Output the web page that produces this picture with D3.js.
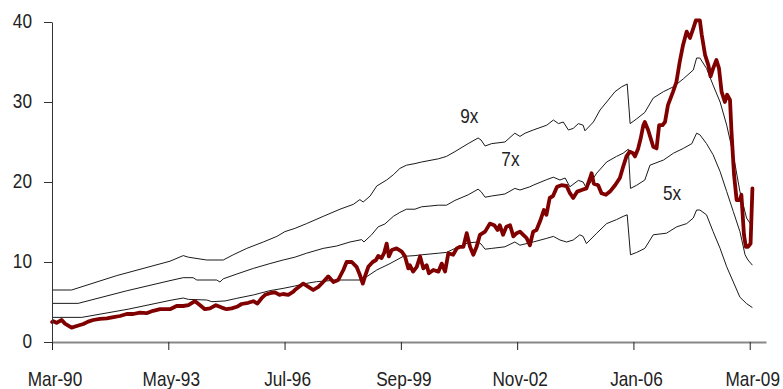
<!DOCTYPE html>
<html>
<head>
<meta charset="utf-8">
<script src="https://cdn.jsdelivr.net/npm/d3@7"></script>
<style>
  html, body { margin: 0; padding: 0; background: #fff; }
  svg { display: block; }
  .lbl { font-family: "Liberation Sans", Arial, sans-serif; font-size: 21px; fill: #222; }
</style>
</head>
<body>
<svg id="chart" width="783" height="389"></svg>
<script>
// Time is a decimal year; values are share price and EPS-multiple bands.
const tickYears  = [1990 + 2/12, 1993 + 4/12, 1996 + 6/12, 1999 + 8/12, 2002 + 10/12, 2006, 2009 + 2/12];
const tickLabels = ["Mar-90", "May-93", "Jul-96", "Sep-99", "Nov-02", "Jan-06", "Mar-09"];
const yTicks     = [0, 10, 20, 30, 40];

const price = [
  [1990.17,2.5],[1990.20,2.6],[1990.29,2.4],[1990.43,2.75],[1990.52,2.3],[1990.70,1.8],[1990.84,2.0],
  [1991.02,2.25],[1991.15,2.55],[1991.29,2.75],[1991.47,2.9],[1991.66,2.95],[1991.84,3.1],[1992.02,3.25],
  [1992.20,3.5],[1992.38,3.5],[1992.56,3.66],[1992.74,3.6],[1992.92,3.9],[1993.11,4.1],[1993.29,4.1],
  [1993.38,4.1],[1993.56,4.5],[1993.74,4.5],[1993.88,4.6],[1994.06,5.1],[1994.20,4.6],[1994.33,4.1],
  [1994.47,4.2],[1994.63,4.6],[1994.79,4.3],[1994.92,4.1],[1995.06,4.2],[1995.20,4.4],[1995.33,4.75],
  [1995.51,4.9],[1995.65,5.1],[1995.76,4.8],[1995.88,5.5],[1995.97,5.9],[1996.10,6.1],[1996.24,6.2],
  [1996.36,5.9],[1996.46,6.0],[1996.60,5.9],[1996.74,6.3],[1996.78,6.5],[1997.01,7.3],[1997.15,6.9],
  [1997.28,6.5],[1997.42,6.9],[1997.55,7.5],[1997.69,8.2],[1997.83,7.5],[1997.96,7.75],[1998.10,9.0],
  [1998.19,10.0],[1998.33,10.0],[1998.46,9.4],[1998.55,8.4],[1998.63,7.3],[1998.69,8.2],[1998.78,9.4],
  [1998.90,10.0],[1998.99,10.25],[1999.05,10.75],[1999.14,10.5],[1999.21,11.1],[1999.28,12.3],[1999.34,10.7],
  [1999.42,11.5],[1999.55,11.7],[1999.69,11.3],[1999.78,10.7],[1999.87,9.2],[1999.91,9.6],[2000.00,8.8],
  [2000.10,9.4],[2000.19,10.7],[2000.28,9.2],[2000.37,9.6],[2000.43,8.6],[2000.55,9.0],[2000.69,8.8],
  [2000.78,9.8],[2000.87,8.8],[2000.96,11.1],[2001.09,10.9],[2001.19,11.7],[2001.28,11.9],[2001.37,11.9],
  [2001.46,13.6],[2001.55,11.9],[2001.64,10.9],[2001.73,11.9],[2001.82,13.4],[2001.96,13.8],[2002.09,14.8],
  [2002.21,14.6],[2002.30,14.0],[2002.36,14.6],[2002.45,13.4],[2002.54,14.4],[2002.64,14.6],[2002.73,13.2],
  [2002.82,13.6],[2002.91,13.8],[2003.00,13.4],[2003.09,13.0],[2003.18,12.1],[2003.27,13.8],[2003.36,14.0],
  [2003.47,15.25],[2003.56,16.5],[2003.63,15.9],[2003.72,18.0],[2003.81,18.25],[2003.92,19.4],[2004.04,19.6],
  [2004.18,19.5],[2004.27,18.6],[2004.36,18.0],[2004.47,18.8],[2004.59,19.0],[2004.72,19.2],[2004.82,20.5],
  [2004.86,21.1],[2004.92,19.8],[2005.04,19.6],[2005.13,18.6],[2005.25,18.4],[2005.36,18.8],[2005.50,19.6],
  [2005.63,20.5],[2005.72,21.9],[2005.81,23.2],[2005.90,23.8],[2005.99,23.6],[2006.04,23.2],[2006.13,24.2],
  [2006.20,25.5],[2006.27,27.1],[2006.31,27.5],[2006.40,26.5],[2006.54,24.4],[2006.63,24.2],[2006.70,27.1],
  [2006.79,27.1],[2006.86,27.5],[2006.94,29.6],[2007.08,31.3],[2007.17,32.5],[2007.26,35.0],[2007.35,37.1],
  [2007.45,38.8],[2007.54,38.0],[2007.63,39.2],[2007.70,40.2],[2007.81,40.2],[2007.86,38.4],[2007.95,35.9],
  [2008.04,34.6],[2008.10,33.2],[2008.17,34.2],[2008.26,35.25],[2008.33,34.2],[2008.40,31.3],[2008.49,30.0],
  [2008.55,30.9],[2008.63,30.25],[2008.67,26.3],[2008.74,20.9],[2008.81,17.75],[2008.90,17.75],[2008.94,18.4],
  [2009.01,13.4],[2009.06,11.9],[2009.12,11.9],[2009.19,12.3],[2009.24,19.2]
];

const band9x = [
  [1990.17,6.5],[1990.70,6.5],[1991.93,8.3],[1993.38,10.1],[1993.74,10.8],[1993.88,10.6],[1994.38,10.25],
  [1994.83,10.25],[1995.10,10.9],[1995.47,11.7],[1995.92,12.5],[1996.29,13.2],[1996.51,13.8],[1996.78,14.2],
  [1997.10,14.8],[1997.55,15.7],[1998.01,16.6],[1998.37,17.2],[1998.55,17.8],[1998.64,17.5],[1998.83,18.25],
  [1999.01,19.5],[1999.28,20.25],[1999.46,20.9],[1999.64,21.7],[1999.82,22.1],[2000.05,22.3],[2000.23,22.5],
  [2000.69,22.9],[2000.91,23.2],[2001.14,23.8],[2001.50,24.8],[2001.77,25.5],[2001.85,25.25],[2001.96,24.5],
  [2002.14,24.8],[2002.50,25.0],[2002.77,26.1],[2002.91,25.7],[2003.05,26.1],[2003.27,26.5],[2003.64,27.1],
  [2003.82,27.75],[2003.96,27.3],[2004.09,27.5],[2004.23,26.5],[2004.36,26.7],[2004.50,27.3],[2004.63,27.1],
  [2004.68,26.4],[2004.91,27.5],[2005.09,29.0],[2005.27,30.0],[2005.50,31.3],[2005.68,31.9],[2005.83,32.25],
  [2005.91,27.3],[2006.09,27.9],[2006.31,28.7],[2006.54,30.5],[2006.82,31.3],[2007.09,31.9],[2007.36,32.9],
  [2007.63,34.0],[2007.72,35.5],[2007.81,35.5],[2007.99,34.2],[2008.17,32.1],[2008.36,30.0],[2008.54,27.1],
  [2008.72,23.4],[2008.90,18.8],[2009.08,15.5],[2009.24,14.4]
];

const band7x = [
  [1990.17,4.83],[1990.88,4.83],[1992.20,6.4],[1993.38,7.67],[1993.74,8.04],[1994.01,8.04],[1994.11,7.75],
  [1994.65,7.75],[1994.74,7.5],[1994.83,7.9],[1995.20,8.5],[1995.65,9.2],[1996.10,9.8],[1996.46,10.25],
  [1996.78,10.6],[1997.10,11.1],[1997.55,11.7],[1997.92,12.0],[1998.28,12.5],[1998.60,12.8],[1998.66,12.5],
  [1998.87,13.4],[1999.05,14.4],[1999.23,14.75],[1999.46,15.7],[1999.64,16.2],[1999.82,16.6],[2000.05,16.6],
  [2000.23,16.9],[2000.69,17.1],[2000.91,17.1],[2001.14,17.7],[2001.50,18.4],[2001.77,19.1],[2001.85,18.8],
  [2001.96,18.1],[2002.14,18.25],[2002.50,18.5],[2002.77,19.2],[2002.91,19.0],[2003.18,19.4],[2003.27,19.6],
  [2003.64,20.3],[2003.82,20.6],[2004.00,20.25],[2004.14,20.5],[2004.27,19.4],[2004.50,20.2],[2004.63,20.0],
  [2004.72,19.2],[2005.00,21.1],[2005.27,22.5],[2005.54,23.2],[2005.72,23.6],[2005.86,24.1],[2005.92,19.2],
  [2006.09,19.6],[2006.31,20.25],[2006.45,22.1],[2006.82,22.75],[2007.09,23.6],[2007.36,24.2],[2007.59,24.8],
  [2007.72,26.1],[2007.81,25.9],[2007.99,24.8],[2008.17,23.4],[2008.36,21.3],[2008.54,18.8],[2008.72,16.3],
  [2008.90,13.8],[2009.04,10.9],[2009.12,10.25],[2009.24,9.6]
];

const band5x = [
  [1990.17,3.08],[1990.98,3.08],[1992.24,4.1],[1993.38,5.2],[1993.74,5.5],[1993.88,5.33],[1994.38,5.25],
  [1994.52,5.04],[1994.88,5.13],[1995.20,5.46],[1995.65,5.88],[1996.10,6.42],[1996.46,6.7],[1996.78,7.0],
  [1997.10,7.33],[1997.37,7.54],[1997.96,7.75],[1998.60,7.75],[1999.01,9.0],[1999.37,9.8],[1999.73,10.7],
  [2000.05,10.8],[2000.23,10.9],[2000.69,11.1],[2000.91,11.2],[2001.14,11.7],[2001.50,12.4],[2001.77,12.5],
  [2001.85,12.25],[2001.96,11.6],[2002.14,11.7],[2002.50,11.9],[2002.77,12.5],[2002.91,12.1],[2003.27,12.5],
  [2003.64,12.96],[2003.82,13.2],[2004.00,12.75],[2004.18,12.5],[2004.36,12.75],[2004.54,13.4],[2004.63,13.2],
  [2004.72,12.3],[2005.00,13.6],[2005.27,14.8],[2005.54,15.3],[2005.72,15.7],[2005.83,15.9],[2005.92,10.9],
  [2006.09,11.2],[2006.31,11.7],[2006.54,13.4],[2006.90,13.6],[2007.18,14.4],[2007.45,14.8],[2007.63,15.5],
  [2007.72,16.5],[2007.81,16.5],[2007.99,15.9],[2008.17,13.8],[2008.36,11.7],[2008.54,9.4],[2008.72,7.5],
  [2008.90,5.6],[2009.08,4.8],[2009.24,4.3]
];

// Band labels, anchored in data space
const bandLabels = [
  { text: "9x", year: 2001.53, value: 27.4 },
  { text: "7x", year: 2002.65, value: 22.0 },
  { text: "5x", year: 2007.05, value: 17.75 }
];

// Horizontal squeeze that gives a narrow sans look
const NARROW = 0.82;

const svg = d3.select("#chart");
const x = d3.scaleLinear().domain([1990 + 2/12, 2009.61]).range([52, 766]);
const y = d3.scaleLinear().domain([0, 40]).range([342, 22]);

const line = d3.line().x(d => x(d[0])).y(d => y(d[1]));

// EPS multiple bands
[band9x, band7x, band5x].forEach(b => {
  svg.append("path").datum(b).attr("d", line)
    .attr("fill", "none").attr("stroke", "#1a1a1a").attr("stroke-width", 1)
    .attr("stroke-linejoin", "round");
});

// Share price
svg.append("path").datum(price).attr("d", line)
  .attr("fill", "none").attr("stroke", "#800000").attr("stroke-width", 3.8)
  .attr("stroke-linejoin", "round").attr("stroke-linecap", "round");

function narrow(sel) {
  sel.each(function () {
    const t = d3.select(this);
    const x0 = +t.attr("x") || 0;
    t.attr("x", x0 / NARROW).attr("transform", `scale(${NARROW},1)`);
  });
}

// Y axis
const yAxis = svg.append("g").attr("transform", "translate(52,0)")
  .call(d3.axisLeft(y).tickValues(yTicks).tickSize(8).tickSizeOuter(0).tickPadding(12));
yAxis.select(".domain").attr("stroke", "#333");
yAxis.selectAll(".tick line").attr("stroke", "#333");
yAxis.selectAll("text").attr("class", "lbl").attr("dy", "0.27em").call(narrow);

// X axis
const xAxis = svg.append("g").attr("transform", "translate(0,342)")
  .call(d3.axisBottom(x).tickValues(tickYears).tickFormat((d, i) => tickLabels[i])
    .tickSize(8).tickSizeOuter(0).tickPadding(21));
xAxis.select(".domain").attr("stroke", "#888").attr("stroke-width", 2);
xAxis.selectAll(".tick line").attr("stroke", "#222");
xAxis.selectAll("text").attr("class", "lbl").attr("x", 2.5).call(narrow);

// Band labels
svg.selectAll(".band-label").data(bandLabels).enter().append("text")
  .attr("class", "lbl band-label")
  .attr("x", d => x(d.year)).attr("y", d => y(d.value))
  .attr("text-anchor", "middle")
  .text(d => d.text)
  .call(narrow);
</script>
</body>
</html>
